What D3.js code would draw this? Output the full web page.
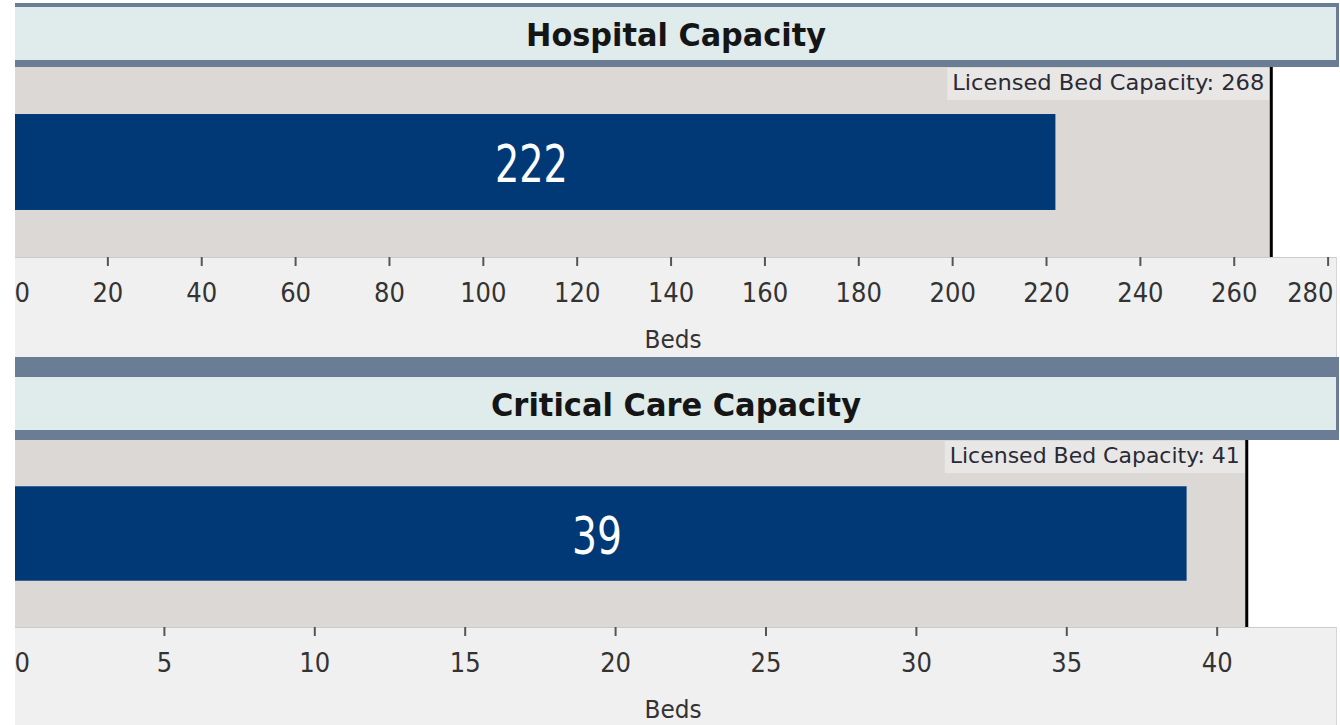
<!DOCTYPE html>
<html><head><meta charset="utf-8">
<script src="https://cdn.jsdelivr.net/npm/d3@7"></script>
<style>
html,body{margin:0;padding:0;background:#fff;overflow:hidden}
svg{display:block}
text{font-family:"DejaVu Sans Condensed","DejaVu Sans",sans-serif}
</style></head><body>
<svg id="chart" width="1340" height="725"></svg>
<script>
// ---- data ----
const titles = ["Hospital Capacity", "Critical Care Capacity"];
const categories = ["Occupied"];
const occupiedBeds = [222, 39];
const licensedBeds = [268, 41];
const axisMax = [282, 44];
const tickValues = [
  [0, 20, 40, 60, 80, 100, 120, 140, 160, 180, 200, 220, 240, 260, 280],
  [0, 5, 10, 15, 20, 25, 30, 35, 40]
];
const axisTitle = "Beds";
const capacityPrefix = "Licensed Bed Capacity: ";

// ---- layout (styles / geometry) ----
const L = 15, R = 1337;
const layout = [
  {borderTop: 3, titleTop: 7, titleBottom: 60, plotTop: 67, plotBottom: 257, axisBottom: 357, titleW: 300, capW: 312, valW: 73},
  {borderTop: 357, titleTop: 377, titleBottom: 430, plotTop: 440, plotBottom: 627, axisBottom: 725, titleW: 370, capW: 290, valW: 50}
];
const C = {slate: "#6b7d95", title: "#dfeceb", plot: "#dcd8d5", axisBg: "#f0f0f0", bar: "#003976", capBox: "#e9e7e5"};

const svg = d3.select("#chart");
svg.append("defs").append("clipPath").attr("id", "clip")
  .append("rect").attr("x", L).attr("y", 0).attr("width", R - L + 2).attr("height", 725);

function fit(sel, w) {
  sel.attr("textLength", w).attr("lengthAdjust", "spacingAndGlyphs");
}

titles.forEach((title, i) => {
  const g = layout[i];
  const x = d3.scaleLinear().domain([0, axisMax[i]]).range([13.5, R]);
  const y = d3.scaleBand().domain(categories).range([g.plotTop, g.plotBottom]).paddingInner(0).paddingOuter(0.49);
  const p = svg.append("g").attr("clip-path", "url(#clip)");

  // panel frame
  p.append("rect").attr("x", L).attr("y", g.borderTop).attr("width", R - L + 2).attr("height", g.plotTop - g.borderTop).attr("fill", C.slate);
  p.append("rect").attr("x", L).attr("y", g.titleTop).attr("width", R - L - 1).attr("height", g.titleBottom - g.titleTop).attr("fill", C.title);
  // axis area
  p.append("rect").attr("x", L).attr("y", g.plotBottom).attr("width", R - L).attr("height", g.axisBottom - g.plotBottom).attr("fill", C.axisBg);
  // plot area: range band up to licensed capacity, white beyond
  p.append("rect").attr("x", L).attr("y", g.plotTop).attr("width", x(licensedBeds[i]) - L).attr("height", g.plotBottom - g.plotTop).attr("fill", C.plot);
  p.append("rect").attr("x", x(licensedBeds[i])).attr("y", g.plotTop).attr("width", R - 1 - x(licensedBeds[i])).attr("height", g.plotBottom - g.plotTop).attr("fill", "#ffffff");
  p.append("line").attr("x1", L).attr("x2", R).attr("y1", g.plotBottom + 0.5).attr("y2", g.plotBottom + 0.5).attr("stroke", "#cbcbcb");
  p.append("line").attr("x1", R - 0.5).attr("x2", R - 0.5).attr("y1", g.plotBottom).attr("y2", g.axisBottom).attr("stroke", "#d6d6d6");

  // title
  p.append("text").attr("x", 676).attr("y", g.titleTop + 39)
    .attr("text-anchor", "middle").attr("font-size", 32).attr("font-weight", "bold").attr("fill", "#151515")
    .text(title).call(fit, g.titleW);

  // bar
  p.selectAll("rect.bar").data([occupiedBeds[i]]).join("rect").attr("class", "bar")
    .attr("x", x(0)).attr("y", y(categories[0])).attr("width", d => x(d) - x(0)).attr("height", y.bandwidth())
    .attr("fill", C.bar);
  p.selectAll("text.val").data([occupiedBeds[i]]).join("text").attr("class", "val")
    .attr("x", d => x(d / 2) - 3).attr("y", y(categories[0]) + y.bandwidth() / 2 + 20)
    .attr("text-anchor", "middle").attr("font-size", 52).attr("fill", "#ffffff")
    .text(d => d).call(fit, g.valW);

  // licensed capacity label + line
  const capX = x(licensedBeds[i]);
  p.append("rect").attr("fill", C.capBox)
    .attr("x", capX - 7 - g.capW - 5).attr("y", g.plotTop + 1).attr("width", g.capW + 10).attr("height", 32);
  p.append("text").attr("x", capX - 7).attr("y", g.plotTop + 23)
    .attr("text-anchor", "end").attr("font-size", 22).attr("fill", "#2a2a36")
    .text(capacityPrefix + licensedBeds[i]).call(fit, g.capW);
  p.append("line").attr("x1", capX).attr("x2", capX).attr("y1", g.plotTop).attr("y2", g.plotBottom)
    .attr("stroke", "#000").attr("stroke-width", 3);

  // axis
  const ax = p.append("g").attr("transform", `translate(0,${g.plotBottom})`)
    .call(d3.axisBottom(x).tickValues(tickValues[i]).tickSize(9).tickFormat(d3.format("d")));
  ax.select(".domain").remove();
  ax.selectAll(".tick line").attr("stroke", "#555").attr("stroke-width", 2);
  ax.selectAll(".tick text").attr("y", 45).attr("dy", 0)
    .attr("font-size", 27).attr("fill", "#333")
    .attr("font-family", '"DejaVu Sans Condensed","DejaVu Sans",sans-serif');
  // keep edge labels inside the plot area
  ax.selectAll(".tick").filter(d => d === 0).select("text")
    .attr("text-anchor", "start").attr("x", L - x(0) - 1);
  ax.selectAll(".tick").filter(function (d) {
    return x(d) + 25 > R;
  }).select("text").attr("text-anchor", "end").attr("x", function (d) { return (R - 4) - x(d); });

  // axis title
  p.append("text").attr("x", 673).attr("y", g.plotBottom + 91)
    .attr("text-anchor", "middle").attr("font-size", 25).attr("fill", "#333")
    .text(axisTitle).call(fit, 57);
});
</script>
</body></html>
